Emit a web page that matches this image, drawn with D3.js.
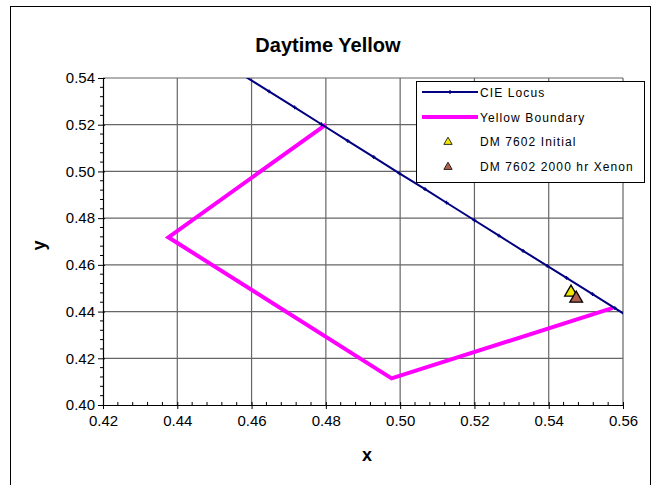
<!DOCTYPE html>
<html>
<head>
<meta charset="utf-8">
<script src="https://d3js.org/d3.v7.min.js"></script>
<style>
  * { margin: 0; padding: 0; }
  html, body { width: 659px; height: 485px; background: #fff; overflow: hidden; }
  body { font-family: 'Liberation Sans', Arial, sans-serif; }
</style>
</head>
<body>
<div id="chart"></div>
<script>
// CIE 1931 spectral locus, 1 nm steps (570-590 nm)
const locusX = [0.4441, 0.4510, 0.4578, 0.4647, 0.4716, 0.4788, 0.4859, 0.4929, 0.4998, 0.5067, 0.5125,
                0.5200, 0.5266, 0.5331, 0.5396, 0.5448, 0.5518, 0.5578, 0.5637, 0.5694, 0.5752];
const locusY = [0.5547, 0.5479, 0.5411, 0.5343, 0.5274, 0.5202, 0.5131, 0.5061, 0.4992, 0.4924, 0.4866,
                0.4791, 0.4725, 0.4660, 0.4596, 0.4544, 0.4475, 0.4415, 0.4356, 0.4299, 0.4242];

// yellow boundary corners
const boundaryX = [0.480, 0.4376, 0.4977, 0.5573];
const boundaryY = [0.520, 0.4718, 0.4114, 0.4416];

// measured samples
const sampleNames = ['DM 7602 Initial', 'DM 7602 2000 hr Xenon'];
const sampleX = [0.5460, 0.5474];
const sampleY = [0.4482, 0.4456];
const sampleColors = ['#f0e600', '#b0604a'];

const xTicks = [0.42, 0.44, 0.46, 0.48, 0.50, 0.52, 0.54, 0.56];
const yTicks = [0.40, 0.42, 0.44, 0.46, 0.48, 0.50, 0.52, 0.54];

const width = 659, height = 485;
const margin = { left: 103, right: 36, top: 78, bottom: 80 };
const plotW = width - margin.left - margin.right;
const plotH = height - margin.top - margin.bottom;

const svg = d3.select('#chart').append('svg')
  .attr('width', width).attr('height', height);

// chart frame
svg.append('rect')
  .attr('x', 10.5).attr('y', 6.5).attr('width', 640).attr('height', 500)
  .attr('fill', '#fff').attr('stroke', '#000').attr('stroke-width', 1);

const x = d3.scaleLinear().domain([0.42, 0.56]).range([0, plotW]);
const y = d3.scaleLinear().domain([0.40, 0.54]).range([plotH, 0]);

const g = svg.append('g')
  .attr('transform', `translate(${margin.left},${margin.top})`);

// gridlines
g.append('g')
  .selectAll('line.vg').data(xTicks.slice(1)).join('line')
  .attr('x1', d => x(d)).attr('x2', d => x(d))
  .attr('y1', 0).attr('y2', plotH)
  .attr('stroke', '#666').attr('stroke-width', 1.2);
g.append('g')
  .selectAll('line.hg').data(yTicks.slice(1)).join('line')
  .attr('x1', 0).attr('x2', plotW)
  .attr('y1', d => y(d)).attr('y2', d => y(d))
  .attr('stroke', '#666').attr('stroke-width', 1.2);

// clip for data
svg.append('defs').append('clipPath').attr('id', 'clip')
  .append('rect').attr('width', plotW).attr('height', plotH);

const data = g.append('g').attr('clip-path', 'url(#clip)');

const line = d3.line().x(d => x(d[0])).y(d => y(d[1]));

const locus = locusX.map((v, i) => [v, locusY[i]]);
const boundary = boundaryX.map((v, i) => [v, boundaryY[i]]);

data.append('path')
  .attr('d', line(boundary))
  .attr('fill', 'none').attr('stroke', '#ff00ff')
  .attr('stroke-width', 4).attr('stroke-linejoin', 'miter');

data.append('path')
  .attr('d', line(locus))
  .attr('fill', 'none').attr('stroke', '#000080').attr('stroke-width', 2);

data.selectAll('path.mk').data(locus).join('path')
  .attr('d', d3.symbol(d3.symbolCross, 8))
  .attr('transform', d => `translate(${x(d[0])},${y(d[1])})`)
  .attr('fill', '#000080');

const tri = d3.symbol(d3.symbolTriangle, 70);
data.selectAll('path.smp').data(sampleX).join('path')
  .attr('d', tri)
  .attr('transform', (d, i) => `translate(${x(d)},${y(sampleY[i])})`)
  .attr('fill', (d, i) => sampleColors[i])
  .attr('stroke', '#000').attr('stroke-width', 1.3);

// axes
const fmt = d3.format('.2f');
const xAxis = g.append('g').attr('transform', `translate(0,${plotH})`)
  .call(d3.axisBottom(x).tickValues(xTicks).tickFormat(fmt).tickSize(4).tickSizeOuter(0));
const yAxis = g.append('g')
  .call(d3.axisLeft(y).tickValues(yTicks).tickFormat(fmt).tickSize(4).tickSizeOuter(0));

[xAxis, yAxis].forEach(a => {
  a.select('.domain').attr('stroke', '#000').attr('stroke-width', 1.2);
  a.selectAll('.tick line').attr('stroke', '#000');
  a.selectAll('text')
    .attr('font-family', "'Liberation Sans', Arial, sans-serif")
    .attr('font-size', 15).attr('fill', '#000');
});
xAxis.selectAll('.tick line').attr('y1', -3);
xAxis.selectAll('text').attr('y', 7).attr('dy', '0.95em');
yAxis.selectAll('.tick line').attr('x1', 2).attr('x2', -5);
yAxis.selectAll('text').attr('x', -8);

// minor ticks
const minorX = d3.range(0.424, 0.56, 0.004).filter(v => Math.abs(v * 50 - Math.round(v * 50)) > 1e-6);
const minorY = d3.range(0.404, 0.54, 0.004).filter(v => Math.abs(v * 50 - Math.round(v * 50)) > 1e-6);
g.append('g').selectAll('line').data(minorX).join('line')
  .attr('x1', d => x(d)).attr('x2', d => x(d))
  .attr('y1', plotH).attr('y2', plotH - 3)
  .attr('stroke', '#000');
g.append('g').selectAll('line').data(minorY).join('line')
  .attr('x1', 0).attr('x2', -3)
  .attr('y1', d => y(d)).attr('y2', d => y(d))
  .attr('stroke', '#000');

// titles
svg.append('text')
  .attr('x', 328).attr('y', 52)
  .attr('text-anchor', 'middle')
  .attr('font-size', 20).attr('font-weight', 'bold')
  .text('Daytime Yellow');
svg.append('text')
  .attr('x', margin.left + plotW / 2 + 4).attr('y', 461)
  .attr('text-anchor', 'middle')
  .attr('font-size', 18).attr('font-weight', 'bold')
  .text('x');
svg.append('text')
  .attr('transform', `translate(45,${margin.top + plotH / 2 + 4}) rotate(-90)`)
  .attr('text-anchor', 'middle')
  .attr('font-size', 18).attr('font-weight', 'bold')
  .text('y');

// legend
const legend = svg.append('g').attr('transform', 'translate(416,81)');
legend.append('rect')
  .attr('x', 0.5).attr('y', 0.5).attr('width', 228).attr('height', 101)
  .attr('fill', '#fff').attr('stroke', '#000');

const rowY = [11, 36, 60, 85];
const labels = ['CIE Locus', 'Yellow Boundary', ...sampleNames];

legend.append('line')
  .attr('x1', 6).attr('x2', 62).attr('y1', rowY[0]).attr('y2', rowY[0])
  .attr('stroke', '#000080').attr('stroke-width', 2);
legend.append('path')
  .attr('d', d3.symbol(d3.symbolCross, 8))
  .attr('transform', `translate(34,${rowY[0]})`)
  .attr('fill', '#000080');
legend.append('line')
  .attr('x1', 6).attr('x2', 62).attr('y1', rowY[1]).attr('y2', rowY[1])
  .attr('stroke', '#ff00ff').attr('stroke-width', 4);
sampleColors.forEach((c, i) => {
  legend.append('path')
    .attr('d', d3.symbol(d3.symbolTriangle, 30))
    .attr('transform', `translate(32,${rowY[2 + i] + 1})`)
    .attr('fill', c).attr('stroke', '#000').attr('stroke-width', 0.8);
});
legend.selectAll('text').data(labels).join('text')
  .attr('x', 64).attr('y', (d, i) => rowY[i] + 4.5)
  .attr('font-size', 12)
  .attr('letter-spacing', 1.1)
  .text(d => d);
</script>
</body>
</html>
